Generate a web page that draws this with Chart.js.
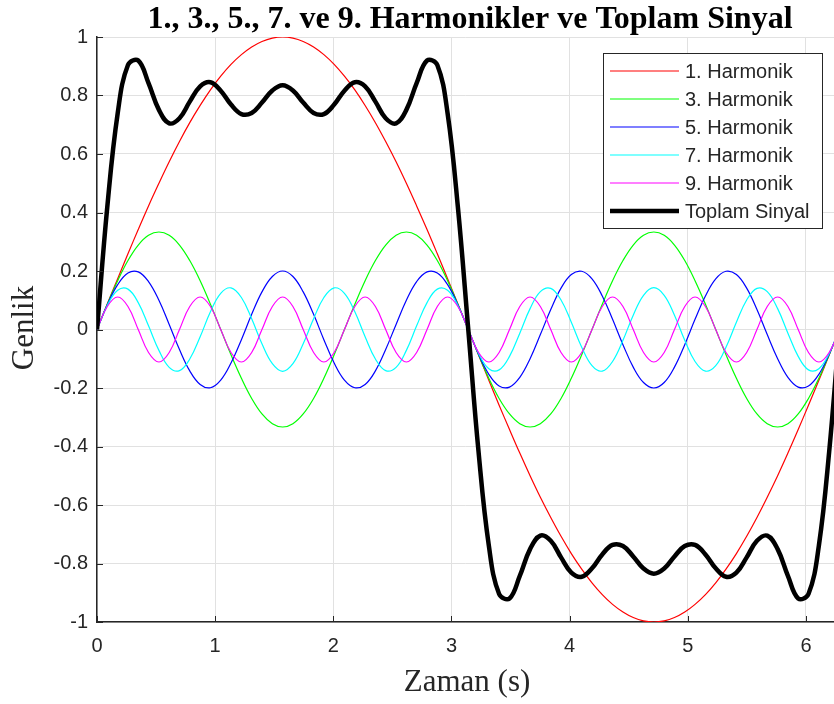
<!DOCTYPE html>
<html>
<head>
<meta charset="utf-8">
<title>Harmonikler</title>
<script src="https://cdn.jsdelivr.net/npm/chart.js@4.4.1/dist/chart.umd.min.js"></script>
<style>
  html, body { margin: 0; padding: 0; background: #fff; }
  #wrap { width: 834px; height: 704px; }
</style>
</head>
<body>
<div id="wrap"><canvas id="harmonicChart" width="834" height="704"></canvas></div>
<script>
// Zaman (s), 5 degree steps over one period
const time = [
  0, 0.087, 0.175, 0.262, 0.349, 0.436, 0.524, 0.611, 0.698, 0.785, 0.873, 0.960, 1.047, 1.134, 1.222, 1.309, 1.396, 1.484, 1.571,
  1.658, 1.745, 1.833, 1.920, 2.007, 2.094, 2.182, 2.269, 2.356, 2.443, 2.531, 2.618, 2.705, 2.793, 2.880, 2.967, 3.054, 3.142,
  3.229, 3.316, 3.403, 3.491, 3.578, 3.665, 3.752, 3.840, 3.927, 4.014, 4.102, 4.189, 4.276, 4.363, 4.451, 4.538, 4.625, 4.712,
  4.800, 4.887, 4.974, 5.061, 5.149, 5.236, 5.323, 5.411, 5.498, 5.585, 5.672, 5.760, 5.847, 5.934, 6.021, 6.109, 6.196, 6.283
];

const harmonic1 = [
  0, 0.0872, 0.1736, 0.2588, 0.342, 0.4226, 0.5, 0.5736, 0.6428, 0.7071, 0.766, 0.8192, 0.866, 0.9063, 0.9397, 0.9659, 0.9848, 0.9962, 1,
  0.9962, 0.9848, 0.9659, 0.9397, 0.9063, 0.866, 0.8192, 0.766, 0.7071, 0.6428, 0.5736, 0.5, 0.4226, 0.342, 0.2588, 0.1736, 0.0872, 0,
  -0.0872, -0.1736, -0.2588, -0.342, -0.4226, -0.5, -0.5736, -0.6428, -0.7071, -0.766, -0.8192, -0.866, -0.9063, -0.9397, -0.9659, -0.9848, -0.9962, -1,
  -0.9962, -0.9848, -0.9659, -0.9397, -0.9063, -0.866, -0.8192, -0.766, -0.7071, -0.6428, -0.5736, -0.5, -0.4226, -0.342, -0.2588, -0.1736, -0.0872, 0
];

const harmonic3 = [
  0, 0.0863, 0.1667, 0.2357, 0.2887, 0.322, 0.3333, 0.322, 0.2887, 0.2357, 0.1667, 0.0863, 0, -0.0863, -0.1667, -0.2357, -0.2887, -0.322, -0.3333,
  -0.322, -0.2887, -0.2357, -0.1667, -0.0863, 0, 0.0863, 0.1667, 0.2357, 0.2887, 0.322, 0.3333, 0.322, 0.2887, 0.2357, 0.1667, 0.0863, 0,
  -0.0863, -0.1667, -0.2357, -0.2887, -0.322, -0.3333, -0.322, -0.2887, -0.2357, -0.1667, -0.0863, 0, 0.0863, 0.1667, 0.2357, 0.2887, 0.322, 0.3333,
  0.322, 0.2887, 0.2357, 0.1667, 0.0863, 0, -0.0863, -0.1667, -0.2357, -0.2887, -0.322, -0.3333, -0.322, -0.2887, -0.2357, -0.1667, -0.0863, 0
];

const harmonic5 = [
  0, 0.0845, 0.1532, 0.1932, 0.197, 0.1638, 0.1, 0.0174, -0.0684, -0.1414, -0.1879, -0.1992, -0.1732, -0.1147, -0.0347, 0.0518, 0.1286, 0.1813, 0.2,
  0.1813, 0.1286, 0.0518, -0.0347, -0.1147, -0.1732, -0.1992, -0.1879, -0.1414, -0.0684, 0.0174, 0.1, 0.1638, 0.197, 0.1932, 0.1532, 0.0845, 0,
  -0.0845, -0.1532, -0.1932, -0.197, -0.1638, -0.1, -0.0174, 0.0684, 0.1414, 0.1879, 0.1992, 0.1732, 0.1147, 0.0347, -0.0518, -0.1286, -0.1813, -0.2,
  -0.1813, -0.1286, -0.0518, 0.0347, 0.1147, 0.1732, 0.1992, 0.1879, 0.1414, 0.0684, -0.0174, -0.1, -0.1638, -0.197, -0.1932, -0.1532, -0.0845, 0
];

const harmonic7 = [
  0, 0.0819, 0.1342, 0.138, 0.0918, 0.0125, -0.0714, -0.1295, -0.1407, -0.101, -0.0248, 0.0604, 0.1237, 0.1423, 0.1094, 0.037, -0.0489, -0.117, -0.1429,
  -0.117, -0.0489, 0.037, 0.1094, 0.1423, 0.1237, 0.0604, -0.0248, -0.101, -0.1407, -0.1295, -0.0714, 0.0125, 0.0918, 0.138, 0.1342, 0.0819, 0,
  -0.0819, -0.1342, -0.138, -0.0918, -0.0125, 0.0714, 0.1295, 0.1407, 0.101, 0.0248, -0.0604, -0.1237, -0.1423, -0.1094, -0.037, 0.0489, 0.117, 0.1429,
  0.117, 0.0489, -0.037, -0.1094, -0.1423, -0.1237, -0.0604, 0.0248, 0.101, 0.1407, 0.1295, 0.0714, -0.0125, -0.0918, -0.138, -0.1342, -0.0819, 0
];

const harmonic9 = [
  0, 0.0786, 0.1111, 0.0786, 0, -0.0786, -0.1111, -0.0786, 0, 0.0786, 0.1111, 0.0786, 0, -0.0786, -0.1111, -0.0786, 0, 0.0786, 0.1111,
  0.0786, 0, -0.0786, -0.1111, -0.0786, 0, 0.0786, 0.1111, 0.0786, 0, -0.0786, -0.1111, -0.0786, 0, 0.0786, 0.1111, 0.0786, 0,
  -0.0786, -0.1111, -0.0786, 0, 0.0786, 0.1111, 0.0786, 0, -0.0786, -0.1111, -0.0786, 0, 0.0786, 0.1111, 0.0786, 0, -0.0786, -0.1111,
  -0.0786, 0, 0.0786, 0.1111, 0.0786, 0, -0.0786, -0.1111, -0.0786, 0, 0.0786, 0.1111, 0.0786, 0, -0.0786, -0.1111, -0.0786, 0
];

const totalSignal = [
  0, 0.4185, 0.7388, 0.9043, 0.9195, 0.8423, 0.7508, 0.7049, 0.7224, 0.779, 0.8311, 0.8453, 0.8165, 0.769, 0.7366, 0.7404, 0.7758, 0.8171, 0.8349,
  0.8171, 0.7758, 0.7404, 0.7366, 0.769, 0.8165, 0.8453, 0.8311, 0.779, 0.7224, 0.7049, 0.7508, 0.8423, 0.9195, 0.9043, 0.7388, 0.4185, 0,
  -0.4185, -0.7388, -0.9043, -0.9195, -0.8423, -0.7508, -0.7049, -0.7224, -0.779, -0.8311, -0.8453, -0.8165, -0.769, -0.7366, -0.7404, -0.7758, -0.8171, -0.8349,
  -0.8171, -0.7758, -0.7404, -0.7366, -0.769, -0.8165, -0.8453, -0.8311, -0.779, -0.7224, -0.7049, -0.7508, -0.8423, -0.9195, -0.9043, -0.7388, -0.4185, 0
];

const seriesLabels = ['1. Harmonik', '3. Harmonik', '5. Harmonik', '7. Harmonik', '9. Harmonik', 'Toplam Sinyal'];
const seriesValues = [harmonic1, harmonic3, harmonic5, harmonic7, harmonic9, totalSignal];
const seriesColors = ['#ff0000', '#00ff00', '#0000ff', '#00ffff', '#ff00ff', '#000000'];
const seriesWidths = [1.2, 1.2, 1.2, 1.2, 1.2, 4.5];

const chartTitle = '1., 3., 5., 7. ve 9. Harmonikler ve Toplam Sinyal';
const xTitle = 'Zaman (s)';
const yTitle = 'Genlik';

const AXIS_COLOR = '#262626';
const SANS = '"Liberation Sans", Arial, sans-serif';
const SERIF = '"Liberation Serif", "Times New Roman", serif';

const toPoints = ys => ys.map((y, i) => ({ x: time[i], y: y }));

// axis lines, inward ticks, titles and the boxed legend
const matlabFrame = {
  id: 'matlabFrame',
  afterDraw(chart) {
    const { ctx, chartArea: a, scales: { x, y } } = chart;
    ctx.save();

    // inward tick marks
    ctx.strokeStyle = AXIS_COLOR;
    ctx.lineWidth = 1;
    ctx.beginPath();
    x.ticks.forEach(t => {
      const px = Math.round(x.getPixelForValue(t.value)) + 0.5;
      ctx.moveTo(px, a.bottom);
      ctx.lineTo(px, a.bottom - 6);
    });
    y.ticks.forEach(t => {
      const py = Math.round(y.getPixelForValue(t.value)) + 0.5;
      ctx.moveTo(a.left, py);
      ctx.lineTo(a.left + 6, py);
    });
    ctx.stroke();

    // title
    ctx.fillStyle = '#000';
    ctx.font = 'bold 32px ' + SERIF;
    ctx.textAlign = 'center';
    ctx.textBaseline = 'alphabetic';
    ctx.fillText(chartTitle, 470, 28);

    // axis titles
    ctx.fillStyle = AXIS_COLOR;
    ctx.font = '31px ' + SERIF;
    ctx.textBaseline = 'middle';
    ctx.fillText(xTitle, 467, 683);
    ctx.save();
    ctx.translate(25, 328);
    ctx.rotate(-Math.PI / 2);
    ctx.fillText(yTitle, 0, 0);
    ctx.restore();

    // legend
    const lx = 603.5, ly = 53.5, lw = 219, lh = 175;
    ctx.fillStyle = '#fff';
    ctx.fillRect(lx, ly, lw, lh);
    ctx.strokeStyle = AXIS_COLOR;
    ctx.lineWidth = 1;
    ctx.strokeRect(lx, ly, lw, lh);
    ctx.font = '20px ' + SANS;
    ctx.textAlign = 'left';
    ctx.textBaseline = 'middle';
    chart.data.datasets.forEach((ds, i) => {
      const ry = 71 + i * 28;
      ctx.strokeStyle = ds.borderColor;
      ctx.lineWidth = ds.borderWidth;
      ctx.beginPath();
      ctx.moveTo(610, ry);
      ctx.lineTo(679, ry);
      ctx.stroke();
      ctx.fillStyle = AXIS_COLOR;
      ctx.fillText(ds.label, 685, ry + 1);
    });

    ctx.restore();
  }
};

new Chart(document.getElementById('harmonicChart'), {
  type: 'line',
  data: {
    datasets: seriesLabels.map((label, i) => ({
      label: label,
      data: toPoints(seriesValues[i]),
      borderColor: seriesColors[i],
      borderWidth: seriesWidths[i],
      pointRadius: 0,
      tension: 0.4,
      fill: false,
      order: seriesLabels.length - i
    }))
  },
  options: {
    responsive: false,
    animation: false,
    devicePixelRatio: 1,
    layout: { padding: { top: 37, left: 0, right: 0, bottom: 0 } },
    plugins: {
      legend: { display: false },
      title: { display: false },
      tooltip: { enabled: false }
    },
    scales: {
      x: {
        type: 'linear',
        min: 0,
        max: 6.237,
        afterFit(scale) { scale.height = 82; },
        ticks: {
          stepSize: 1,
          includeBounds: false,
          maxRotation: 0,
          padding: 12,
          color: AXIS_COLOR,
          font: { family: SANS, size: 20 }
        },
        grid: { color: '#e1e1e1', lineWidth: 1, drawTicks: false },
        border: { display: true, color: AXIS_COLOR, width: 1.5 }
      },
      y: {
        min: -1,
        max: 1,
        afterFit(scale) { scale.width = 97; },
        ticks: {
          stepSize: 0.2,
          padding: 9,
          color: AXIS_COLOR,
          font: { family: SANS, size: 20 },
          callback: value => String(Number(value.toFixed(1)))
        },
        grid: { color: '#e1e1e1', lineWidth: 1, drawTicks: false },
        border: { display: true, color: AXIS_COLOR, width: 1.5 }
      }
    }
  },
  plugins: [matlabFrame]
});
</script>
</body>
</html>
